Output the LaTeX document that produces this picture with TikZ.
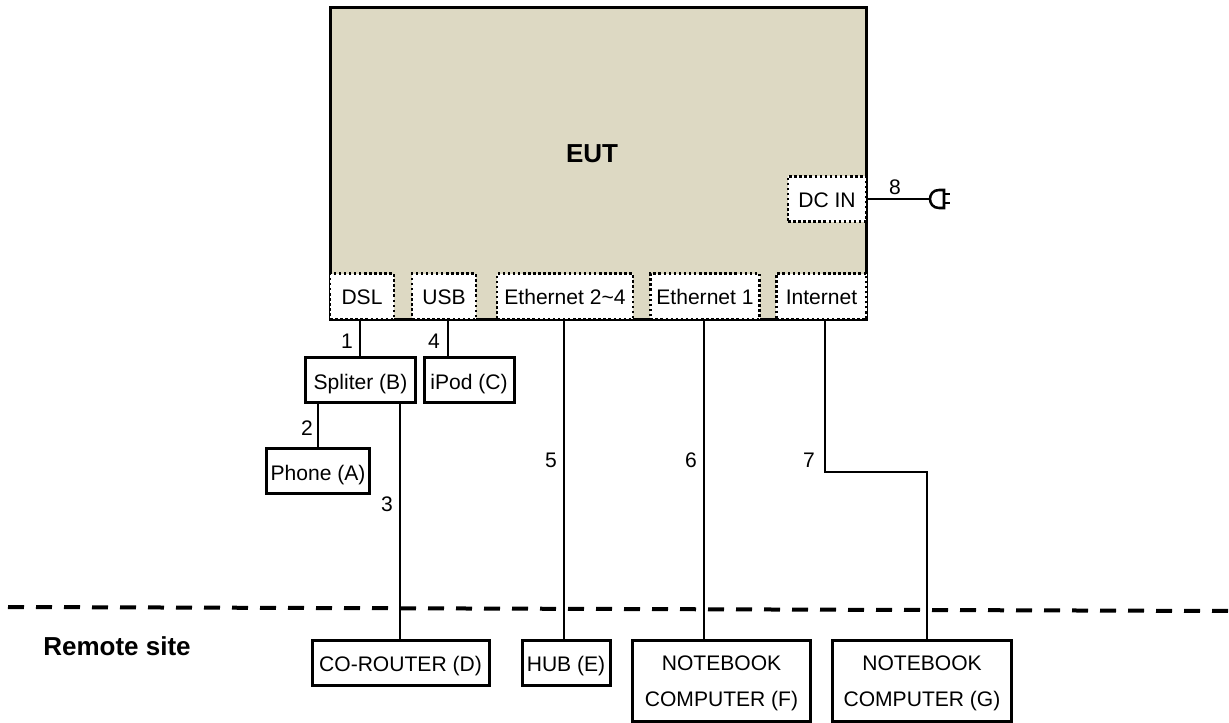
\documentclass[tikz,border=0pt]{standalone}
\usepackage{fontspec}
\setmainfont{Liberation Sans}
\definecolor{eutfill}{HTML}{DDD9C3}
\tikzset{
  x=0.75pt,y=-0.75pt,
  every node/.style={font=\fontsize{15.8pt}{27pt}\selectfont,inner sep=0pt,align=center},
  eutbox/.style={draw=black,fill=eutfill,line width=2.25pt,minimum width=402pt,minimum height=234pt},
  port/.style={draw=black,fill=white,line width=2.2pt,dash pattern=on 1.9pt off 1.9pt,minimum height=34pt,text height=12.6pt,text depth=0pt},
  unitbase/.style={draw=black,fill=white,line width=2.25pt,minimum height=33.75pt},
  unit/.style={unitbase,text height=13.6pt,text depth=0pt},
  twoline/.style={unitbase,minimum width=134pt,minimum height=61pt,text depth=0pt},
  wire/.style={draw=black,line width=1.7pt},
  boldlabel/.style={font=\fontsize{19.5pt}{24pt}\selectfont\bfseries},
}
\begin{document}
\begin{tikzpicture}
\useasboundingbox (0,0) rectangle (1229,723);
\node[eutbox] (eut) at (598,164) {};
\node[port,minimum width=48pt] (dsl) at (362,296.5) {DSL};
\node[port,minimum width=48pt] (usb) at (444,296.5) {USB};
\node[port,minimum width=102pt] (eth24) at (565,296.5) {Ethernet 2\char`~4};
\node[port,minimum width=82pt] (eth1) at (705,296.5) {Ethernet 1};
\node[port,minimum width=68pt] (inet) at (821.5,296.5) {Internet};
\node[port,minimum width=58.5pt] (dc) at (827,199) {DC IN};
\node[unit,minimum width=83pt] (split) at (360.5,380.5) {Spliter (B)};
\node[unit,minimum width=67.5pt] (ipod) at (469,380.5) {iPod (C)};
\node[unit,minimum width=77pt] (phone) at (318,471) {Phone (A)};
\node[unit,minimum width=132.75pt] (corouter) at (400.5,662.5) {CO-ROUTER (D)};
\node[unit,minimum width=66pt] (hub) at (566,662.5) {HUB (E)};
\node[twoline] (nbf) at (721.5,681) {NOTEBOOK\\COMPUTER (F)};
\node[twoline] (nbg) at (922,681) {NOTEBOOK\\COMPUTER (G)};
\node[boldlabel] (euttext) at (592,154) {EUT};
\node[boldlabel] (remote) at (117,646) {Remote site};
\node (n1) at (347,341) {1};
\node (n4) at (434,341) {4};
\node (n2) at (307,428) {2};
\node (n3) at (387,504) {3};
\node (n5) at (551,460) {5};
\node (n6) at (691,460) {6};
\node (n7) at (809,460) {7};
\node (n8) at (895,187) {8};
\coordinate (plug) at (930,199);
\draw[line width=3pt,dash pattern=on 12pt off 9pt] (8,607) -- (1229,611);
\draw[wire] (360,0 |- dsl.south) -- (360,0 |- split.north);
\draw[wire] (448,0 |- usb.south) -- (448,0 |- ipod.north);
\draw[wire] (318,0 |- split.south) -- (318,0 |- phone.north);
\draw[wire] (400,0 |- split.south) -- (400,0 |- corouter.north);
\draw[wire] (564,0 |- eth24.south) -- (564,0 |- hub.north);
\draw[wire] (704,0 |- eth1.south) -- (704,0 |- nbf.north);
\draw[wire] (825,0 |- inet.south) -- (825,472) -- (927,472) -- (927,0 |- nbg.north);
\draw[wire,line width=1.9pt] (dc.east) -- (plug);
\draw[line width=1.9pt,fill=white] (944,190) -- (939,190) .. controls (927,190) and (927,208) .. (939,208) -- (944,208) -- cycle;
\draw[line width=1.9pt] (944,194) -- (950,194) (944,203) -- (950,203);
\end{tikzpicture}
\end{document}
